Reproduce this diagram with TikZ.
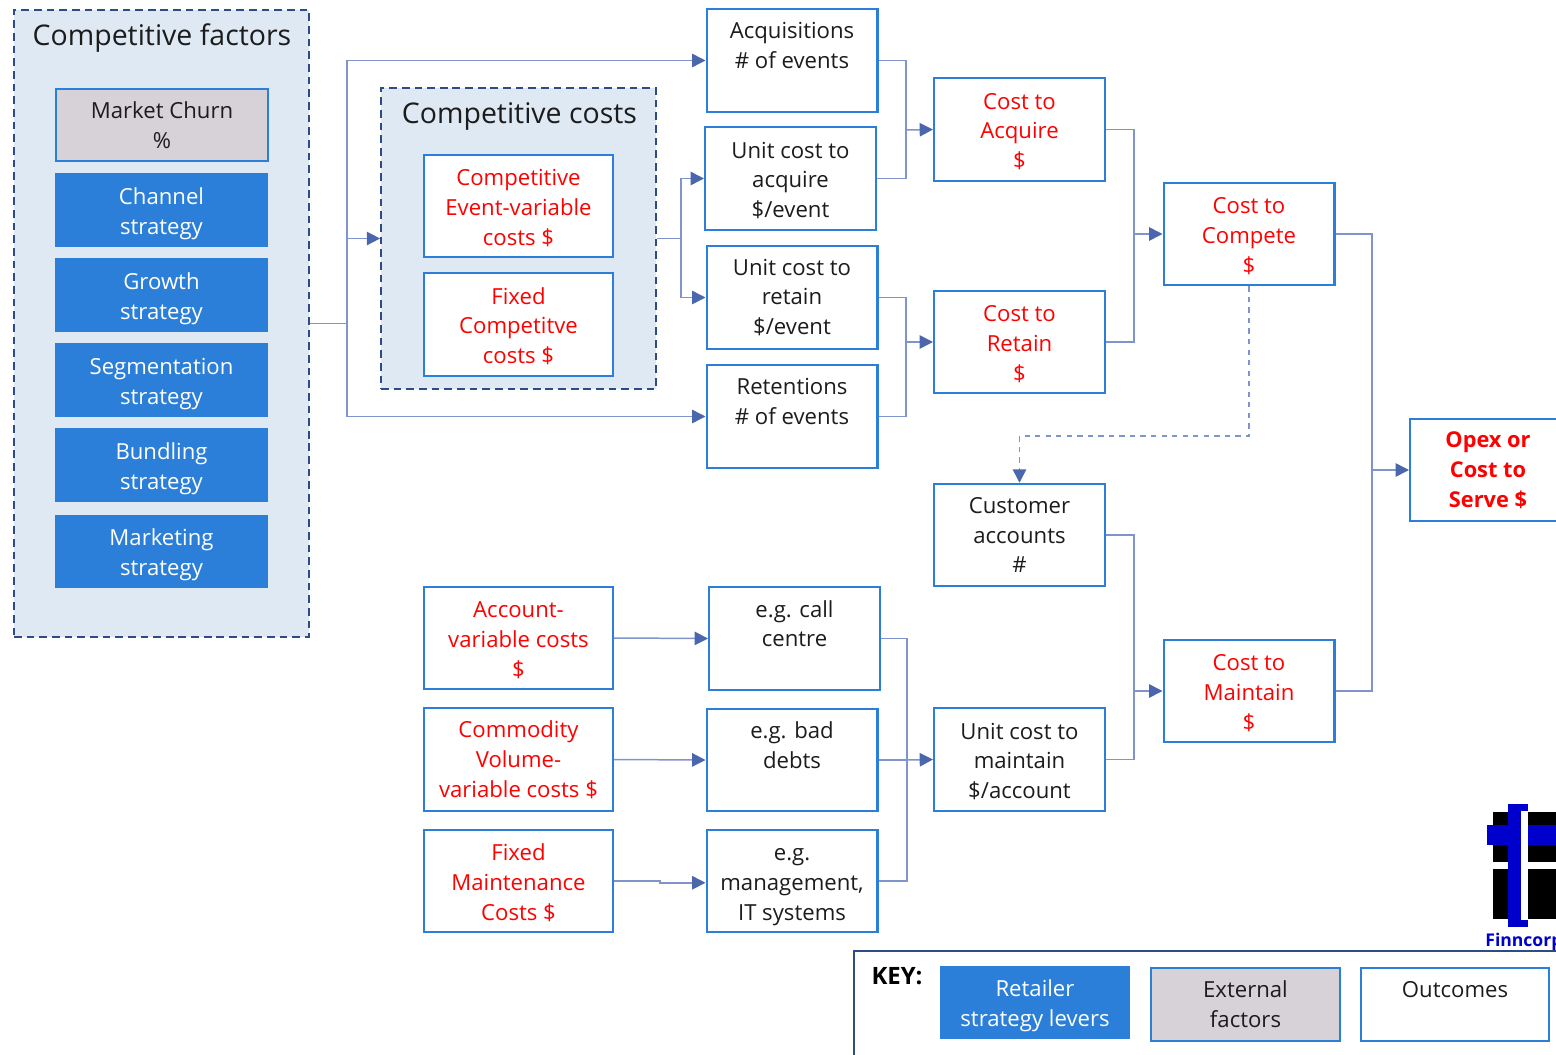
\documentclass[tikz,border=0pt]{standalone}
\usepackage{fontspec}
\setmainfont{Open Sans}
\usetikzlibrary{arrows.meta}
\definecolor{boxblue}{HTML}{2B7FD8}
\definecolor{panelblue}{HTML}{DFE9F4}
\definecolor{panelline}{HTML}{2F4B86}
\definecolor{churngray}{HTML}{D6D2D8}
\definecolor{linkblue}{HTML}{7F94CA}
\definecolor{tipblue}{HTML}{4A66AC}
\definecolor{inkblack}{HTML}{1C1C1C}
\definecolor{logoblue}{HTML}{0000CC}
\newcommand{\padlow}{\rule{0pt}{11.5pt}}
\newcommand{\padhigh}{\rule{0pt}{13.5pt}}
\begin{document}
\begin{tikzpicture}[x=0.02cm,y=-0.02cm]
    \tikzstyle{every node}+=[inner sep=0pt,align=center,font=\fontsize{12.6}{17}\selectfont,text=inkblack]
    \tikzstyle{panel}=[draw=panelline,fill=panelblue,line width=1pt,dash pattern=on 4.4pt off 2.8pt]
    \tikzstyle{heading}=[font=\fontsize{16.2}{20}\selectfont]
    \tikzstyle{outbox}=[draw=boxblue,fill=white,line width=1.15pt,minimum width=3.42cm,minimum height=2.05cm]
    \tikzstyle{redbox}=[outbox,text=red,minimum width=3.78cm]
    \tikzstyle{lever}=[fill=boxblue,text=white,minimum width=4.26cm,minimum height=1.48cm]
    \tikzstyle{flow}=[draw=linkblue,line width=0.85pt,-{Stealth[length=7.6pt,width=7.6pt,inset=0pt,color=tipblue]}]
    \tikzstyle{line}=[draw=linkblue,line width=0.85pt]
    \useasboundingbox (0,0) rectangle (1556,1055);
    \clip (0,0) rectangle (1556,1055);

    \node [panel,minimum width=5.9cm,minimum height=12.54cm] (factors) at (161.5,323.5) {};
    \node [panel,minimum width=5.5cm,minimum height=6.02cm] (costs) at (518.5,238.5) {};
    \node [heading] (factorstitle) at (162,38) {Competitive factors};
    \node [heading] (coststitle) at (519.5,116) {Competitive costs};

    \node [outbox,fill=churngray,minimum width=4.24cm,minimum height=1.44cm] (churn) at (162,125) {Market Churn\\\%};
    \node [lever] (channel) at (161.5,210) {\padhigh Channel\\strategy};
    \node [lever] (growth) at (161.5,295) {\padhigh Growth\\strategy};
    \node [lever] (segment) at (161.5,380) {\padhigh Segmentation\\strategy};
    \node [lever] (bundle) at (161.5,465) {\padhigh Bundling\\strategy};
    \node [lever] (marketing) at (161.5,551.5) {\padhigh Marketing\\strategy};

    \node [redbox] (eventcost) at (518.5,206) {\padlow Competitive\\Event-variable\\costs \$};
    \node [redbox] (fixedcost) at (518.5,324.5) {\padlow Fixed\\Competitve\\costs \$};

    \node [outbox] (acqevents) at (792,60.5) {Acquisitions\\\# of events\\~};
    \node [outbox] (unitacq) at (790.5,178.5) {\padlow Unit cost to\\acquire\\\$/event};
    \node [outbox] (unitret) at (792,297.5) {Unit cost to\\retain\\\$/event};
    \node [outbox] (retevents) at (792,416.5) {Retentions\\\# of events\\~};

    \node [outbox,text=red] (costacq) at (1019.5,129.5) {\padlow Cost to\\Acquire\\\$};
    \node [outbox,text=red] (costret) at (1019.5,342) {\padlow Cost to\\Retain\\\$};
    \node [outbox,text=red] (costcomp) at (1249,234) {\padlow Cost to\\Compete\\\$};
    \node [outbox,text=red,font=\fontsize{12.4}{17}\selectfont\bfseries,minimum width=3.12cm] (opex) at (1488,470) {Opex or\\Cost to\\Serve \$};

    \node [outbox] (accounts) at (1019.5,535) {Customer\\accounts\\\#};
    \node [outbox] (unitmaint) at (1019.5,759.5) {\padlow Unit cost to\\maintain\\\$/account};
    \node [outbox,text=red] (costmaint) at (1249,691) {\padlow Cost to\\Maintain\\\$};

    \node [redbox] (acctcost) at (518.5,638) {\padlow Account-\\variable costs\\\$};
    \node [redbox] (commcost) at (518.5,759.5) {Commodity\\Volume-\\variable costs \$};
    \node [redbox] (maintcost) at (518.5,881) {\padlow Fixed\\Maintenance\\Costs \$};

    \node [outbox] (callcentre) at (794.5,638.5) {e.g. call\\centre\\~};
    \node [outbox] (baddebts) at (792,760) {e.g. bad\\debts\\~};
    \node [outbox] (systems) at (792,881) {\padhigh e.g.\\management,\\IT systems};

    \coordinate (factorsbus) at (347,323.5);
    \coordinate (costsbus) at (681,238.5);
    \coordinate (acqbus) at (906,130);
    \coordinate (retbus) at (906,342);
    \coordinate (compbus) at (1134,234);
    \coordinate (opexbus) at (1372,470);
    \coordinate (maintbus) at (1134,691);
    \coordinate (unitbus) at (907,760);
    \coordinate (dashbend) at (1249,436);
    \coordinate (maintjog) at (660,881);

    \draw [line] (factors.east) -- (factorsbus);
    \draw [flow] (factorsbus) |- (acqevents.west);
    \draw [flow] (factorsbus) |- (costs.west);
    \draw [flow] (factorsbus) |- (retevents.west);
    \draw [line] (costs.east) -- (costsbus);
    \draw [flow] (costsbus) |- (unitacq.west);
    \draw [flow] (costsbus) |- (unitret.west);
    \draw [line] (acqevents.east) -| (acqbus);
    \draw [line] (unitacq.east) -| (acqbus);
    \draw [flow] (acqbus) -- (costacq.west);
    \draw [line] (unitret.east) -| (retbus);
    \draw [line] (retevents.east) -| (retbus);
    \draw [flow] (retbus) -- (costret.west);
    \draw [line] (costacq.east) -| (compbus);
    \draw [line] (costret.east) -| (compbus);
    \draw [flow] (compbus) -- (costcomp.west);
    \draw [line] (costcomp.east) -| (opexbus);
    \draw [line] (costmaint.east) -| (opexbus);
    \draw [flow] (opexbus) -- (opex.west);
    \draw [flow,dashed] (costcomp.south) -- (dashbend) -| (accounts.north);
    \draw [line] (accounts.east) -| (maintbus);
    \draw [line] (unitmaint.east) -| (maintbus);
    \draw [flow] (maintbus) -- (costmaint.west);
    \draw [flow] (acctcost.east) -- (callcentre.west);
    \draw [flow] (commcost.east) -- (baddebts.west);
    \draw [flow] (maintcost.east) -- (maintjog) |- ([yshift=-1pt]systems.west);
    \draw [line] (callcentre.east) -| (unitbus);
    \draw [line] (baddebts.east) -- (unitbus);
    \draw [line] (systems.east) -| (unitbus);
    \draw [flow] (unitbus) -- (unitmaint.west);

    \fill [black] (1493,812) rectangle (1570,862);
    \fill [black] (1493,869) rectangle (1570,919);
    \fill [white] (1521,811) rectangle (1528,920);
    \fill [logoblue] (1487,825) rectangle (1521,845);
    \fill [logoblue] (1528,825) rectangle (1570,845);
    \fill [logoblue] (1508,804) rectangle (1528,811);
    \fill [logoblue] (1508,804) rectangle (1521,927);
    \fill [logoblue] (1508,920) rectangle (1528,927);
    \node [anchor=west,text=logoblue,font=\fontsize{10}{12}\selectfont\bfseries] (logotext) at (1485,941.5) {Finncorp};

    \draw [draw=panelline,line width=1pt] (854,1070) -- (854,951) -- (1570,951);
    \node [font=\fontsize{13.6}{17}\selectfont\bfseries,text=black] (keylabel) at (897,976) {KEY:};
    \node [lever,minimum width=3.8cm,minimum height=1.46cm] (keylever) at (1035,1002.5) {\padhigh Retailer\\strategy levers};
    \node [outbox,fill=churngray,minimum width=3.78cm,minimum height=1.46cm] (keyfactor) at (1245.5,1004.5) {External\\factors};
    \node [outbox,minimum width=3.76cm,minimum height=1.46cm] (keyoutcome) at (1455,1004.5) {Outcomes\\~};
\end{tikzpicture}
\end{document}
